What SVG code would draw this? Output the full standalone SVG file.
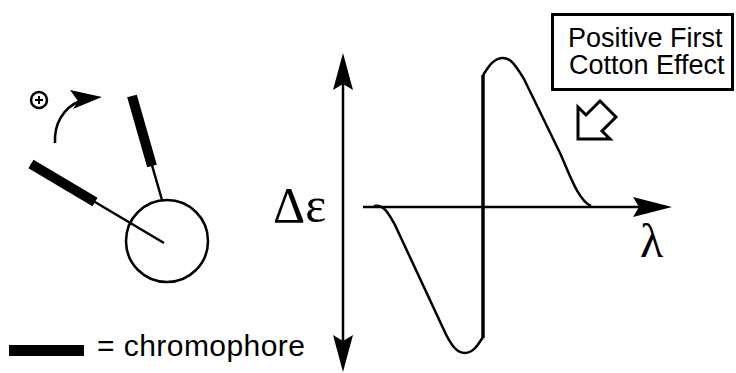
<svg xmlns="http://www.w3.org/2000/svg" width="736" height="373" viewBox="0 0 736 373">
<style>
.thin{fill:none;stroke:#000;stroke-width:2.5}
.bar{stroke:#000;stroke-width:10;stroke-linecap:butt}
.sans{font-family:"Liberation Sans",Arial,sans-serif;fill:#000}
.serif{font-family:"Liberation Serif","Times New Roman",serif;fill:#000}
</style>
<rect width="736" height="373" fill="#fff"/>
<g id="molecule">
<circle cx="167" cy="241" r="41" class="thin"/>
<line x1="31" y1="164" x2="164" y2="243" class="thin"/>
<line x1="31" y1="164" x2="95" y2="202" class="bar"/>
<line x1="132" y1="96" x2="162" y2="200" class="thin"/>
<line x1="132" y1="96" x2="152" y2="166" class="bar"/>
</g>
<g id="rotation">
<circle cx="39" cy="100" r="8" class="thin" stroke-width="2"/>
<line x1="35" y1="100" x2="43" y2="100" stroke="#000" stroke-width="2"/>
<line x1="39" y1="96" x2="39" y2="104" stroke="#000" stroke-width="2"/>
<path d="M55 143 C54 124 63 108 80 101" class="thin" stroke-width="3"/>
<polygon points="102,97 70,90 78,101 73,109" fill="#000"/>
</g>
<g id="legend">
<rect x="9" y="345" width="75" height="11" fill="#000"/>
<text x="97" y="356" class="sans" font-size="30" textLength="208">= chromophore</text>
</g>
<g id="axes">
<line x1="343" y1="70" x2="343" y2="356" stroke="#000" stroke-width="2.5"/>
<polygon points="343,53 353,90 343,84 333,90" fill="#000"/>
<polygon points="343,372 353,335 343,341 333,335" fill="#000"/>
<line x1="363" y1="207" x2="655" y2="207" stroke="#000" stroke-width="2.5"/>
<polygon points="672,207 633,197 639,207 633,217" fill="#000"/>
<text x="273" y="222" class="serif" font-size="50">Δε</text>
<text x="640" y="257" class="serif" font-size="48">λ</text>
</g>
<g id="curve">
<path d="M374 206 C383 204 388 212 395 225 L443 328 C451 346 457 353 465 353 C473 353 478 345 483 337" class="thin" stroke-width="3"/>
<line x1="483" y1="338" x2="483" y2="75" stroke="#000" stroke-width="3.5"/>
<path d="M483 75 C488 68 493 58 503 58 C512 58 517 68 524 79 L560 153 C570 175 578 200 591 206" class="thin" stroke-width="3"/>
</g>
<g id="label">
<rect x="552.5" y="14.5" width="180" height="75" fill="#fff" stroke="#000" stroke-width="3"/>
<text x="568" y="47" class="sans" font-size="27">Positive First</text>
<text x="569" y="74" class="sans" font-size="27">Cotton Effect</text>
<polygon points="578,139 578,107 586,115 600,101 616,117 602,131 610,139" fill="#fff" stroke="#000" stroke-width="3"/>
</g>
</svg>
